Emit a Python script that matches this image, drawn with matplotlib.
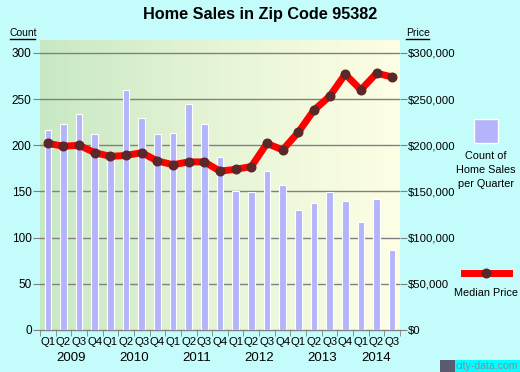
import numpy as np
import matplotlib
matplotlib.use("Agg")
import matplotlib.pyplot as plt
from matplotlib.colors import LinearSegmentedColormap

plt.rcParams['font.family'] = ['Liberation Sans', 'DejaVu Sans']

quarters = ["Q1", "Q2", "Q3", "Q4"] * 5 + ["Q1", "Q2", "Q3"]
years = ["2009", "2010", "2011", "2012", "2013", "2014"]
sales = [217, 223, 234, 212, 190, 260, 230, 212, 213, 245, 223, 187,
         151, 149, 172, 157, 130, 137, 149, 140, 117, 142, 87]
price = [202000, 199000, 200000, 192000, 188000, 189000, 192000, 183000,
         179000, 182000, 182000, 172000, 174000, 177000, 202000, 195000,
         214000, 238000, 253000, 277000, 260000, 278000, 274000]

bg = "#c4fcfc"
fig = plt.figure(figsize=(5.2, 3.72), dpi=100, facecolor=bg)
ax = fig.add_axes([40/520, 1-330/372, 360/520, 290/372])
ax.set_facecolor(bg)

n = len(sales)
x = np.arange(n)
ax.set_xlim(-0.5, n - 0.5)
ax.set_ylim(0, 314)

# gradient background
cmap = LinearSegmentedColormap.from_list("g", ["#c8e8c4", "#e6f5d6", "#fefee4"])
ax.imshow(np.linspace(0, 1, 256).reshape(1, -1), cmap=cmap, aspect="auto",
          extent=(-0.5, n - 0.5, 0, 314), zorder=0)

for v in range(50, 301, 50):
    ax.axhline(v, color="#808080", lw=1, zorder=1)

ax.bar(x, sales, width=0.42, color="#b4b4fa", edgecolor="white", lw=0.8, zorder=2)

ax2 = ax.twinx()
ax2.set_ylim(0, 314000)
ax2.plot(x, price, color="#ff0000", lw=5, zorder=3)
ax2.plot(x, price, "o", color="#5a2828", ms=6.2, zorder=4)

for a in (ax, ax2):
    for s in a.spines.values():
        s.set_visible(False)

ax.set_yticks(range(0, 301, 50))
ax.tick_params(axis="y", length=5, color="#808080", labelsize=8.5, pad=1)
ax2.set_yticks(range(0, 300001, 50000))
ax2.set_yticklabels(["$0"] + [f"${v:,}" for v in range(50000, 300001, 50000)])
ax2.tick_params(axis="y", length=5, color="#808080", labelsize=8.2, pad=1)

ax.set_xticks(x)
ax.set_xticklabels(quarters)
ax.tick_params(axis="x", length=0, labelsize=8.2, pad=5)
ax.set_xticks(np.arange(-0.5, n, 1), minor=True)
ax.tick_params(axis="x", which="minor", length=4, color="#808080")
ax.axhline(0, color="#808080", lw=1, zorder=1, clip_on=False)

for i, yr in enumerate(years):
    start = i * 4
    end = min(start + 3, n - 1)
    ax.text((start + end) / 2, -0.097, yr, transform=ax.get_xaxis_transform(),
            ha="center", va="center", fontsize=9.5)

fig.text(0.5, 1-15/372, "Home Sales in Zip Code 95382", ha="center", va="center",
         fontsize=11.7, fontweight="bold")
fig.text(10/520, 1-33/372, "Count", fontsize=7.5, va="center", ha="left")
fig.add_artist(plt.Line2D([10/520, 35/520], [1-39/372, 1-39/372], color="black", lw=1))
fig.text(406/520, 1-33/372, "Price", fontsize=7.5, va="center", ha="left")
fig.add_artist(plt.Line2D([406/520, 429/520], [1-39/372, 1-39/372], color="black", lw=1))

# legend
fig.patches.append(plt.Rectangle((474/520, 1-143/372), 24/520, 24/372, transform=fig.transFigure,
                                 facecolor="#b4b4fa", edgecolor="white", lw=1))
fig.text(486/520, 1-170/372, "Count of\nHome Sales\nper Quarter", ha="center", va="center",
         fontsize=7.8, linespacing=1.5)
fig.add_artist(plt.Line2D([464/520, 509/520], [1-273/372, 1-273/372], color="#ff0000", lw=5))
fig.add_artist(plt.Line2D([486/520], [1-273/372], marker="o", color="#5a2828", ms=6.2))
fig.text(486/520, 1-293/372, "Median Price", ha="center", va="center", fontsize=7.8)

fig.patches.append(plt.Rectangle((455/520, 0), 65/520, 12/372, transform=fig.transFigure,
                                 facecolor="#00ffff", edgecolor="none"))
fig.patches.append(plt.Rectangle((440/520, 0), 15/520, 12/372, transform=fig.transFigure,
                                 facecolor="#5a5a70", edgecolor="none"))
fig.text(518/520, 6/372, "city-data.com", ha="right", va="center", fontsize=7.6,
         color="#8a8a9a", zorder=5)

fig.savefig("out.png", dpi=100, facecolor=bg)
